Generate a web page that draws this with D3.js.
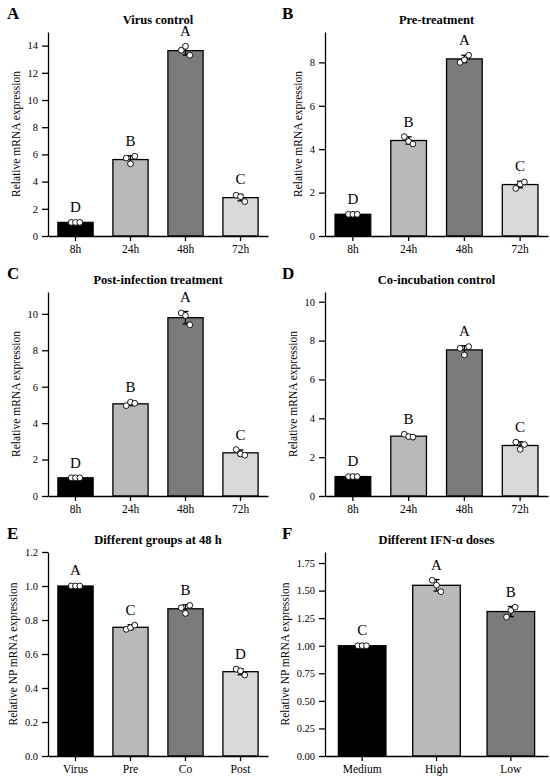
<!DOCTYPE html>
<html>
<head>
  <meta charset="utf-8">
  <title>Relative mRNA expression panels</title>
  <script src="https://d3js.org/d3.v7.min.js"></script>
  <style>
    body {
      margin: 0;
      padding: 0;
      background: white;
    }
  </style>
</head>
<body>
  <div id="chart"></div>

  <script>
    // categories
    var timeCats = ["8h", "24h", "48h", "72h"];
    var groupCats = ["Virus", "Pre", "Co", "Post"];
    var doseCats = ["Medium", "High", "Low"];

    // A - virus control
    var virusMean = [1.0, 5.62, 13.63, 2.82];
    var virusErr = [0.02, 0.28, 0.33, 0.24];
    var virusPts = [[1.0, 1.0, 1.0], [5.73, 5.31, 5.86], [13.66, 13.95, 13.29], [3.0, 2.9, 2.53]];
    var virusSig = ["D", "B", "A", "C"];

    // B - pre-treatment
    var preMean = [1.0, 4.40, 8.16, 2.37];
    var preErr = [0.02, 0.17, 0.17, 0.15];
    var prePts = [[1.0, 1.0, 1.0], [4.58, 4.36, 4.24], [8.0, 8.12, 8.33], [2.19, 2.39, 2.49]];
    var preSig = ["D", "B", "A", "C"];

    // C - post-infection treatment
    var postMean = [1.0, 5.06, 9.79, 2.37];
    var postErr = [0.02, 0.10, 0.34, 0.16];
    var postPts = [[1.0, 1.0, 1.0], [4.96, 5.15, 5.09], [10.05, 9.91, 9.4], [2.55, 2.31, 2.24]];
    var postSig = ["D", "B", "A", "C"];

    // D - co-incubation control
    var coMean = [1.0, 3.08, 7.52, 2.6];
    var coErr = [0.02, 0.08, 0.22, 0.19];
    var coPts = [[1.0, 1.0, 1.0], [3.18, 3.06, 3.03], [7.6, 7.26, 7.69], [2.77, 2.4, 2.65]];
    var coSig = ["D", "B", "A", "C"];

    // E - groups at 48 h
    var groupMean = [1.0, 0.757, 0.866, 0.496];
    var groupErr = [0.004, 0.015, 0.024, 0.018];
    var groupPts = [[1.0, 1.0, 1.0], [0.745, 0.755, 0.77], [0.872, 0.839, 0.886], [0.511, 0.501, 0.476]];
    var groupSig = ["A", "C", "B", "D"];

    // F - IFN-alpha doses
    var doseMean = [1.0, 1.548, 1.31];
    var doseErr = [0.004, 0.052, 0.046];
    var dosePts = [[1.0, 1.0, 1.0], [1.594, 1.549, 1.49], [1.26, 1.32, 1.35]];
    var doseSig = ["C", "A", "B"];

    // y tick values
    var ticksA = [0, 2, 4, 6, 8, 10, 12, 14];
    var ticksB = [0, 2, 4, 6, 8];
    var ticksC = [0, 2, 4, 6, 8, 10];
    var ticksD = [0, 2, 4, 6, 8, 10];
    var ticksE = [0, 0.2, 0.4, 0.6, 0.8, 1.0, 1.2];
    var ticksF = [0, 0.25, 0.5, 0.75, 1.0, 1.25, 1.5, 1.75];

    var fills4 = ["#000000", "#b9b9b9", "#7b7b7b", "#d9d9d9"];
    var fills3 = ["#000000", "#b9b9b9", "#7b7b7b"];

    var panels = [
      {id: "A", title: "Virus control", cats: timeCats, mean: virusMean, err: virusErr, pts: virusPts, sig: virusSig,
       ymax: 15, ticks: ticksA, fmt: d3.format("d"), fills: fills4, ylab: "Relative mRNA expression", col: 0, row: 0},
      {id: "B", title: "Pre-treatment", cats: timeCats, mean: preMean, err: preErr, pts: prePts, sig: preSig,
       ymax: 9.4, ticks: ticksB, fmt: d3.format("d"), fills: fills4, ylab: "Relative mRNA expression", col: 1, row: 0},
      {id: "C", title: "Post-infection treatment", cats: timeCats, mean: postMean, err: postErr, pts: postPts, sig: postSig,
       ymax: 11.2, ticks: ticksC, fmt: d3.format("d"), fills: fills4, ylab: "Relative mRNA expression", col: 0, row: 1},
      {id: "D", title: "Co-incubation control", cats: timeCats, mean: coMean, err: coErr, pts: coPts, sig: coSig,
       ymax: 10.5, ticks: ticksD, fmt: d3.format("d"), fills: fills4, ylab: "Relative mRNA expression", col: 1, row: 1},
      {id: "E", title: "Different groups at 48 h", cats: groupCats, mean: groupMean, err: groupErr, pts: groupPts, sig: groupSig,
       ymax: 1.2, ticks: ticksE, fmt: d3.format(".1f"), fills: fills4, ylab: "Relative NP mRNA expression", col: 0, row: 2},
      {id: "F", title: "Different IFN-\u03b1 doses", cats: doseCats, mean: doseMean, err: doseErr, pts: dosePts, sig: doseSig,
       ymax: 1.85, ticks: ticksF, fmt: d3.format(".2f"), fills: fills3, ylab: "Relative NP mRNA expression", col: 1, row: 2}
    ];

    var W = 550, H = 782;
    var cellW = 275, cellH = 260;
    var plotTop = 32, plotBottom = 236;
    var plotLeft = [48, 50], plotRight = [268, 273];
    var r = 2.9;
    var serif = "'Liberation Serif', 'Times New Roman', serif";

    var svg = d3.select("#chart")
      .append("svg")
        .attr("width", W)
        .attr("height", H)
        .style("font-family", serif);

    panels.forEach(function(p) {
      var g = svg.append("g")
          .attr("transform", "translate(" + (p.col * cellW) + "," + (p.row * cellH) + ")");

      var x0 = plotLeft[p.col], x1 = plotRight[p.col];

      var x = d3.scaleBand()
          .domain(p.cats)
          .range([x0, x1])
          .paddingInner(0.36)
          .paddingOuter(0.18);

      var y = d3.scaleLinear()
          .domain([0, p.ymax])
          .range([plotBottom, plotTop]);

      // bars
      g.selectAll(".bar")
          .data(p.mean)
        .enter().append("rect")
          .attr("class", "bar")
          .attr("x", function(d, i) { return x(p.cats[i]); })
          .attr("y", function(d) { return y(d); })
          .attr("width", x.bandwidth())
          .attr("height", function(d) { return plotBottom - y(d); })
          .attr("fill", function(d, i) { return p.fills[i]; })
          .attr("stroke", "black")
          .attr("stroke-width", 1.3);

      // error bars
      var eb = g.selectAll(".err")
          .data(p.mean)
        .enter().append("g")
          .attr("class", "err")
          .attr("transform", function(d, i) { return "translate(" + (x(p.cats[i]) + x.bandwidth() / 2) + ",0)"; });
      eb.append("line")
          .attr("y1", function(d, i) { return y(d - p.err[i]); })
          .attr("y2", function(d, i) { return y(d + p.err[i]); })
          .attr("stroke", "black").attr("stroke-width", 1.3);
      eb.append("line")
          .attr("x1", -3).attr("x2", 3)
          .attr("y1", function(d, i) { return y(d + p.err[i]); })
          .attr("y2", function(d, i) { return y(d + p.err[i]); })
          .attr("stroke", "black").attr("stroke-width", 1.3);
      eb.append("line")
          .attr("x1", -3).attr("x2", 3)
          .attr("y1", function(d, i) { return y(d - p.err[i]); })
          .attr("y2", function(d, i) { return y(d - p.err[i]); })
          .attr("stroke", "black").attr("stroke-width", 1.3);

      // replicate points
      var offs = [-4.3, 0, 4.3];
      p.pts.forEach(function(pts, i) {
        var cx = x(p.cats[i]) + x.bandwidth() / 2;
        g.selectAll(".pt" + i)
            .data(pts)
          .enter().append("circle")
            .attr("cx", function(d, j) { return cx + offs[j]; })
            .attr("cy", function(d) { return y(d); })
            .attr("r", r)
            .attr("fill", "white")
            .attr("stroke", "black")
            .attr("stroke-width", 0.9);
      });

      // significance letters
      g.selectAll(".sig")
          .data(p.sig)
        .enter().append("text")
          .attr("class", "sig")
          .attr("x", function(d, i) { return x(p.cats[i]) + x.bandwidth() / 2; })
          .attr("y", function(d, i) {
            var top = Math.max(p.mean[i] + p.err[i], d3.max(p.pts[i]));
            return y(top) - r - 7;
          })
          .attr("text-anchor", "middle")
          .style("font-family", serif)
          .style("font-size", "15px")
          .text(function(d) { return d; });

      // axes
      var xAxis = g.append("g")
          .attr("transform", "translate(0," + plotBottom + ")")
          .call(d3.axisBottom(x).tickSize(5).tickSizeOuter(0).tickPadding(4));

      var yAxis = g.append("g")
          .attr("transform", "translate(" + x0 + ",0)")
          .call(d3.axisLeft(y).tickValues(p.ticks).tickFormat(p.fmt).tickSize(6).tickSizeOuter(0).tickPadding(4));

      [xAxis, yAxis].forEach(function(a) {
        a.attr("font-family", serif);
        a.selectAll("path, line").attr("stroke", "black").attr("stroke-width", 1.3);
        a.selectAll("text").style("font-family", serif).attr("fill", "black");
      });
      xAxis.selectAll("text").style("font-size", "11.5px");
      yAxis.selectAll("text").style("font-size", "10.5px");

      // put the y label just left of the widest tick label
      var minX = 0;
      yAxis.selectAll(".tick text").each(function() {
        var b = this.getBBox();
        minX = Math.min(minX, b.x);
      });

      g.append("text")
          .attr("transform", "translate(" + (x0 + minX - 8) + "," + ((plotTop + plotBottom) / 2) + ") rotate(-90)")
          .attr("text-anchor", "middle")
          .style("font-family", serif)
          .style("font-size", "11.5px")
          .text(p.ylab);

      // title and panel letter
      g.append("text")
          .attr("x", (x0 + x1) / 2)
          .attr("y", 24)
          .attr("text-anchor", "middle")
          .style("font-family", serif)
          .style("font-size", "12.5px")
          .style("font-weight", "bold")
          .text(p.title);

      g.append("text")
          .attr("x", 7)
          .attr("y", 19)
          .style("font-family", serif)
          .style("font-size", "17px")
          .style("font-weight", "bold")
          .text(p.id);
    });
  </script>
</body>
</html>
